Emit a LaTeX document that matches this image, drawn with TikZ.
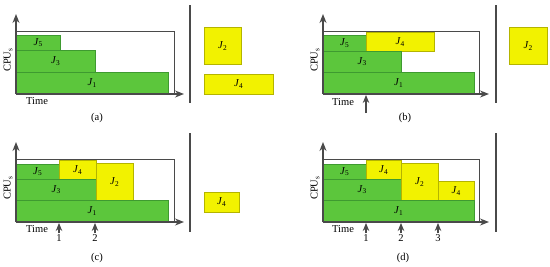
\documentclass[tikz,border=0pt]{standalone}
\usepackage{fontspec}
\setmainfont{Liberation Serif}
\usetikzlibrary{arrows.meta}
\definecolor{jgreen}{HTML}{5CC63C}
\definecolor{jgreenb}{HTML}{3E9A30}
\definecolor{jyellow}{HTML}{F2F200}
\definecolor{jyellowb}{HTML}{B4B400}
\definecolor{axc}{HTML}{4A4A4A}
\tikzset{
  gjob/.style={draw=jgreenb, fill=jgreen, line width=0.5pt, inner sep=0pt, font=\fontsize{10.5}{11}\selectfont},
  yjob/.style={draw=jyellowb, fill=jyellow, line width=0.5pt, inner sep=0pt, font=\fontsize{10.5}{11}\selectfont},
  axisline/.style={draw=axc, line width=1.4pt, -{Stealth[length=9pt,width=7pt]}},
  frameline/.style={draw=axc, line width=1pt},
  sepline/.style={draw=axc, line width=1.2pt},
  evarrow/.style={draw=axc, line width=1.1pt, -{Stealth[length=8pt,width=6.5pt]}},
  lbl/.style={font=\fontsize{10.5}{11}\selectfont, inner sep=1pt},
}
\newcommand\jobbox[7]{%
  \node[#1, anchor=north west, minimum width={(#5-#3)*1pt}, minimum height={(#6-#4)*1pt}] (#2) at (#3,#4) {#7};}
\newcommand\jl[1]{\textit{J}\textsubscript{#1}}
\begin{document}
\begin{tikzpicture}[x=1pt,y=-1pt]
\useasboundingbox (0,0) rectangle (550,266);
% ---------- panel (a) ----------
\coordinate (ao) at (16,94);
\coordinate (ay) at (16,14);
\coordinate (ax) at (184,94);
\coordinate (aft) at (16,31);
\coordinate (afr) at (174,31);
\coordinate (afb) at (174,94);
\jobbox{gjob}{a5}{16}{35}{60}{50}{\jl5}
\jobbox{gjob}{a3}{16}{50}{95}{72}{\jl3}
\jobbox{gjob}{a1}{16}{72}{168}{94}{\jl1}
\draw[frameline] (aft) -- (afr) -- (afb);
\draw[axisline] (ao) -- (ay);
\draw[axisline] (ao) -- (ax);
\node[lbl, anchor=west] (atime) at (25,101) {Time};
\node[lbl, rotate=90] (acpu) at (8,60) {CPU\textsubscript{s}};
\node[lbl] (acap) at (97,118) {(a)};
\coordinate (as1) at (190,5);
\coordinate (as2) at (190,103);
\draw[sepline] (as1) -- (as2);
\jobbox{yjob}{aq2}{204}{27}{241}{64}{\jl2}
\jobbox{yjob}{aq4}{204}{74}{273}{94}{\jl4}
% ---------- panel (b) ----------
\coordinate (bo) at (323,94);
\coordinate (by) at (323,14);
\coordinate (bx) at (489,94);
\coordinate (bft) at (323,31);
\coordinate (bfr) at (479,31);
\coordinate (bfb) at (479,94);
\jobbox{gjob}{b5}{323}{35}{366}{51}{\jl5}
\jobbox{yjob}{b4}{366}{32}{434}{51}{\jl4}
\jobbox{gjob}{b3}{323}{51}{401}{72}{\jl3}
\jobbox{gjob}{b1}{323}{72}{474}{94}{\jl1}
\draw[frameline] (bft) -- (bfr) -- (bfb);
\draw[axisline] (bo) -- (by);
\draw[axisline] (bo) -- (bx);
\node[lbl, anchor=west] (btime) at (331,102) {Time};
\node[lbl, rotate=90] (bcpu) at (315,60) {CPU\textsubscript{s}};
\node[lbl] (bcap) at (405,118) {(b)};
\coordinate (be1t) at (366,113);
\coordinate (be1h) at (366,95);
\draw[evarrow] (be1t) -- (be1h);
\coordinate (bs1) at (496,5);
\coordinate (bs2) at (496,103);
\draw[sepline] (bs1) -- (bs2);
\jobbox{yjob}{bq2}{509}{27}{547}{64}{\jl2}
% ---------- panel (c) ----------
\coordinate (co) at (16,222);
\coordinate (cy) at (16,142);
\coordinate (cx) at (184,222);
\coordinate (cft) at (16,159);
\coordinate (cfr) at (174,159);
\coordinate (cfb) at (174,222);
\jobbox{gjob}{c5}{16}{164}{59}{179}{\jl5}
\jobbox{yjob}{c4}{59}{160}{96}{179}{\jl4}
\jobbox{gjob}{c3}{16}{179}{96}{200}{\jl3}
\jobbox{yjob}{c2}{96}{163}{133}{200}{\jl2}
\jobbox{gjob}{c1}{16}{200}{168}{222}{\jl1}
\draw[frameline] (cft) -- (cfr) -- (cfb);
\draw[axisline] (co) -- (cy);
\draw[axisline] (co) -- (cx);
\node[lbl, anchor=west] (ctime) at (25,229) {Time};
\node[lbl, rotate=90] (ccpu) at (8,188) {CPU\textsubscript{s}};
\node[lbl] (ccap) at (97,258) {(c)};
\node[lbl] (cn1) at (59,238) {1};
\node[lbl] (cn2) at (95,238) {2};
\coordinate (ce1h) at (59,223);
\coordinate (ce2h) at (95,223);
\draw[evarrow] (cn1.north) -- (ce1h);
\draw[evarrow] (cn2.north) -- (ce2h);
\coordinate (cs1) at (190,133);
\coordinate (cs2) at (190,232);
\draw[sepline] (cs1) -- (cs2);
\jobbox{yjob}{cq4}{204}{192}{239}{212}{\jl4}
% ---------- panel (d) ----------
\coordinate (do) at (323,222);
\coordinate (dy) at (323,142);
\coordinate (dx) at (489,222);
\coordinate (dft) at (323,159);
\coordinate (dfr) at (479,159);
\coordinate (dfb) at (479,222);
\jobbox{gjob}{d5}{323}{164}{366}{179}{\jl5}
\jobbox{yjob}{d4}{366}{160}{401}{179}{\jl4}
\jobbox{gjob}{d3}{323}{179}{401}{200}{\jl3}
\jobbox{yjob}{d2}{401}{163}{438}{200}{\jl2}
\jobbox{yjob}{d4b}{438}{181}{474}{200}{\jl4}
\jobbox{gjob}{d1}{323}{200}{474}{222}{\jl1}
\draw[frameline] (dft) -- (dfr) -- (dfb);
\draw[axisline] (do) -- (dy);
\draw[axisline] (do) -- (dx);
\node[lbl, anchor=west] (dtime) at (331,229) {Time};
\node[lbl, rotate=90] (dcpu) at (315,188) {CPU\textsubscript{s}};
\node[lbl] (dcap) at (403,258) {(d)};
\node[lbl] (dn1) at (366,238) {1};
\node[lbl] (dn2) at (401,238) {2};
\node[lbl] (dn3) at (438,238) {3};
\coordinate (de1h) at (366,223);
\coordinate (de2h) at (401,223);
\coordinate (de3h) at (438,223);
\draw[evarrow] (dn1.north) -- (de1h);
\draw[evarrow] (dn2.north) -- (de2h);
\draw[evarrow] (dn3.north) -- (de3h);
\coordinate (ds1) at (496,133);
\coordinate (ds2) at (496,232);
\draw[sepline] (ds1) -- (ds2);
\end{tikzpicture}
\end{document}
